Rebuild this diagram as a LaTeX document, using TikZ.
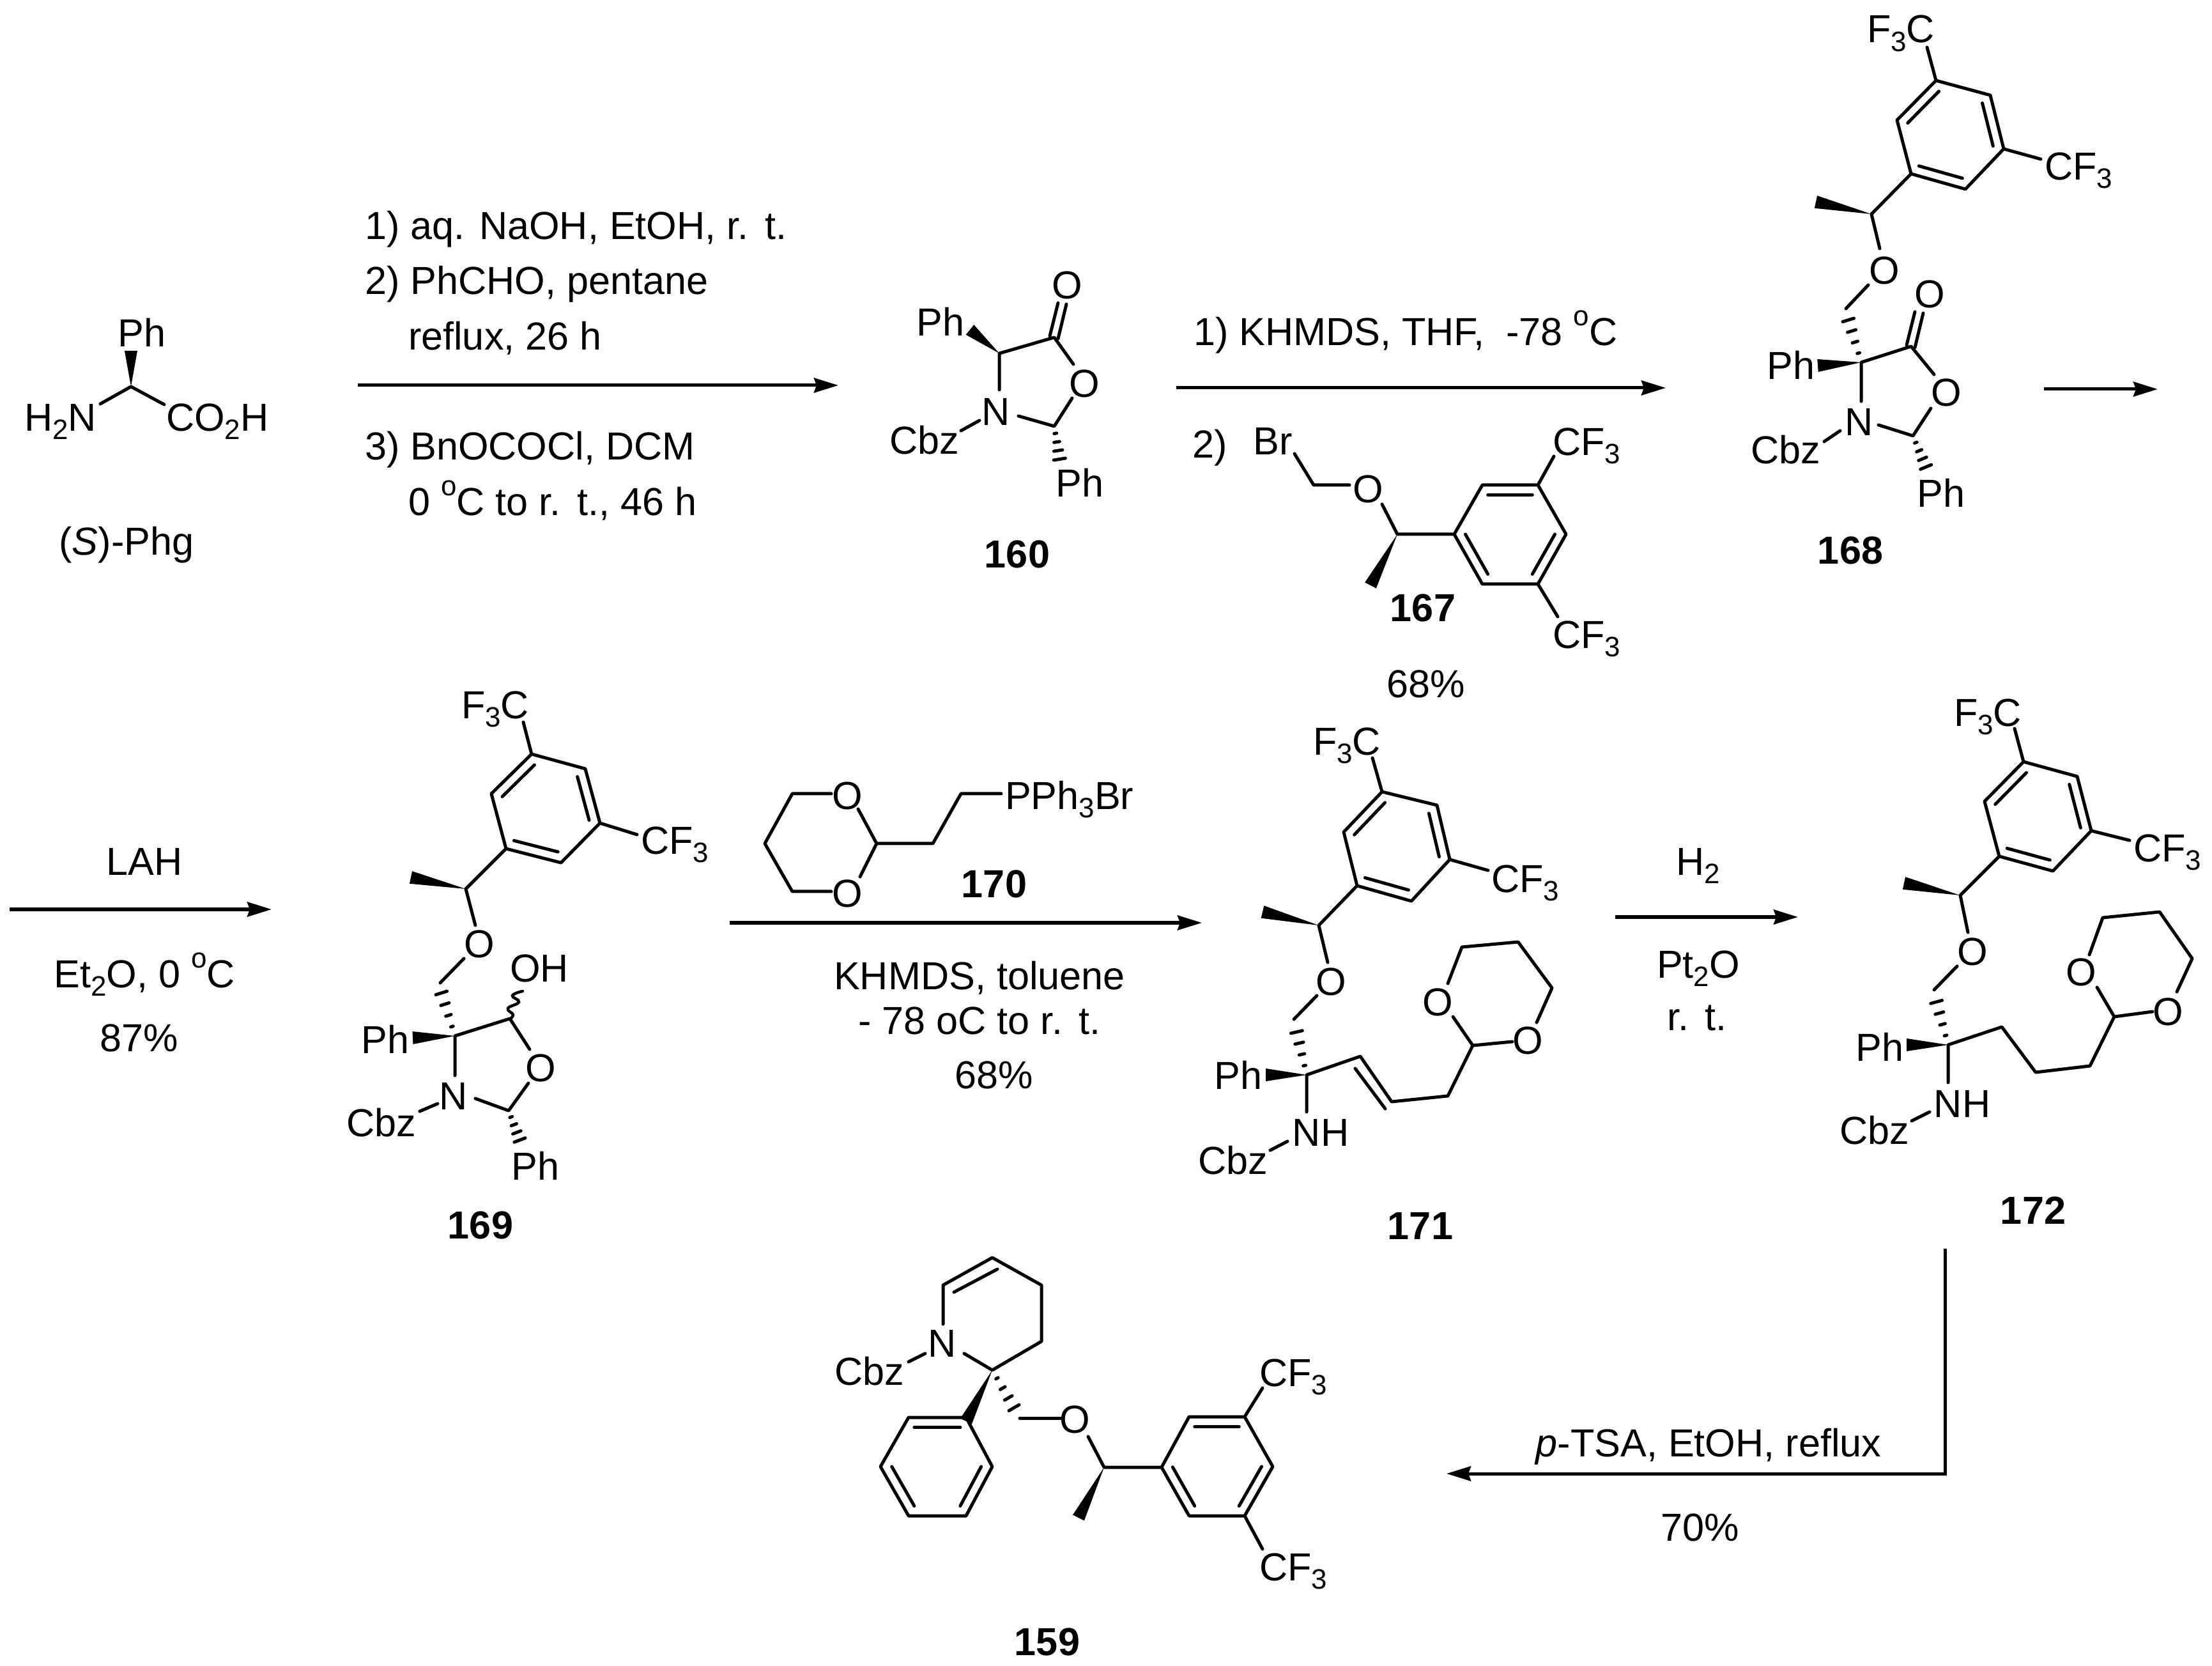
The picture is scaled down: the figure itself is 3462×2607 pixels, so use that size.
\documentclass[tikz,border=0pt]{standalone}
\usepackage{fontspec}
\setmainfont{Liberation Sans}
\usetikzlibrary{calc,arrows.meta}
\newcommand\sbs[1]{\raisebox{-0.22em}{\fontsize{12.5}{12.5}\selectfont #1}}
\newcommand\sps[1]{\raisebox{0.5em}{\fontsize{12.5}{12.5}\selectfont #1}}
\newcommand\rt{r.\hspace{0.42em}t.}
\tikzset{
  bond/.style={line width=0.05cm,line cap=round,line join=round},
  rxn/.style={line width=0.05cm,-{Stealth[length=0.38cm,width=0.23cm,inset=0.04cm]}},
  chem/.style={inner sep=0pt,outer sep=0pt,text height=0.42cm,text depth=0pt,font=\fontsize{17.4}{20}\selectfont},
  chemw/.style={chem,anchor=west},
  cmpd/.style={chem,font=\fontsize{17.4}{20}\selectfont\bfseries}
}
% wedge: narrow tip at #1, broad end at #2
\newcommand\wdg[2]{\fill #1 -- ($#2!0.1cm!90:#1$) -- ($#2!0.1cm!-90:#1$) -- cycle;}
% hashed wedge: narrow tip at #1, broad end at #2
\newcommand\hsh[2]{\foreach \tt in {0.2,0.44,0.68,0.92}{
  \pgfmathsetmacro\hw{0.1*\tt}
  \coordinate (hh) at ($#1!\tt!#2$);
  \draw[bond] ($(hh)!\hw cm!90:#2$) -- ($(hh)!\hw cm!-90:#2$);}}
% aromatic ring: double bonds on edges ab, cd, ef
\newcommand\hexring[7]{
  \coordinate (#1a) at #2; \coordinate (#1b) at #3; \coordinate (#1c) at #4;
  \coordinate (#1d) at #5; \coordinate (#1e) at #6; \coordinate (#1f) at #7;
  \coordinate (#1o) at (barycentric cs:#1a=1,#1b=1,#1c=1,#1d=1,#1e=1,#1f=1);
  \draw[bond] (#1a)--(#1b)--(#1c)--(#1d)--(#1e)--(#1f)--cycle;
  \draw[bond] ($(#1a)!0.2!(#1o)$)--($(#1b)!0.2!(#1o)$);
  \draw[bond] ($(#1c)!0.2!(#1o)$)--($(#1d)!0.2!(#1o)$);
  \draw[bond] ($(#1e)!0.2!(#1o)$)--($(#1f)!0.2!(#1o)$);
}
\begin{document}
\begin{tikzpicture}[x=0.01cm,y=-0.01cm]
\useasboundingbox (0,0) rectangle (3462,2607);
\fill[white] (0,0) rectangle (3462,2607);

%%% (S)-Phg
\draw[bond] (157,632)--(205,605)--(257,633);
\wdg{(205,605)}{(205,549)}
\node[chem] (phgPh) at (222,521) {Ph};
\node[chem,anchor=west] (phgN) at (38,653) {H\sbs{2}N};
\node[chem,anchor=west] (phgC) at (260,653) {CO\sbs{2}H};
\node[chem] (phgName) at (198,847) {(\textit{S})-Phg};

%%% arrow 1
\coordinate (a1s) at (560,603); \coordinate (a1e) at (1312,603);
\draw[rxn] (a1s)--(a1e);
\node[chemw] (t1a) at (571,354) {1) aq. NaOH, EtOH, \rt};
\node[chemw] (t1b) at (571,439) {2) PhCHO, pentane};
\node[chemw] (t1c) at (639,526) {reflux, 26 h};
\node[chemw] (t1d) at (571,698) {3) BnOCOCl, DCM};
\node[chemw] (t1e) at (639,785) {0 \sps{o}C to \rt, 46 h};

%%% 160
\draw[bond] (1564,610)--(1564,553)--(1650,528)--(1680,570);
\draw[bond] (1594,651)--(1650,667)--(1678,623);
\draw[bond] (1643,526)--(1656,474);
\draw[bond] (1656,530)--(1669,476);
\wdg{(1564,553)}{(1518,516)}
\hsh{(1650,667)}{(1659,723)}
\draw[bond] (1504,674)--(1533,658);
\node[chem] (c160O) at (1670,446) {O};
\node[chem] (c160Or) at (1697,600) {O};
\node[chem] (c160N) at (1559,644) {N};
\node[chem] (c160Ph) at (1472,504) {Ph};
\node[chem] (c160Ph2) at (1690,756) {Ph};
\node[chem] (c160Cbz) at (1447,689) {Cbz};
\node[cmpd] (c160) at (1592,867) {160};

%%% arrow 2
\coordinate (a2s) at (1841,607); \coordinate (a2e) at (2607,607);
\draw[rxn] (a2s)--(a2e);
\node[chemw] (t2a) at (1868,519) {1) KHMDS, THF,~ -78 \sps{o}C};
\node[chemw] (t2b) at (1866,695) {2)};
\node[chem] (c167Br) at (1992,690) {Br};
\draw[bond] (2026,710)--(2056,759)--(2112,759);
\node[chem] (c167O) at (2141,765) {O};
\draw[bond] (2163,789)--(2187,836)--(2276,836);
\wdg{(2187,836)}{(2145,916)}
\hexring{r167}{(2320,759)}{(2407,759)}{(2451,836)}{(2407,914)}{(2320,914)}{(2276,836)}
\draw[bond] (2407,759)--(2432,714);
\draw[bond] (2407,914)--(2438,965);
\node[chemw] (c167F1) at (2430,691) {CF\sbs{3}};
\node[chemw] (c167F2) at (2430,993) {CF\sbs{3}};
\node[cmpd] (c167) at (2227,951) {167};
\node[chem] (t2y) at (2232,1070) {68\%};

%%% 168
\hexring{r168}{(3115,149)}{(3136,233)}{(3076,296)}{(2991,272)}{(2969,188)}{(3030,126)}
\draw[bond] (3016,74)--(3030,126);
\draw[bond] (3136,233)--(3194,249);
\node[chem] (c168F1) at (2975,46) {F\sbs{3}C};
\node[chemw] (c168F2) at (3200,260) {CF\sbs{3}};
\draw[bond] (2991,272)--(2929,335)--(2942,389);
\wdg{(2929,335)}{(2842,316)}
\node[chem] (c168O) at (2949,423) {O};
\draw[bond] (2924,446)--(2889,483);
\hsh{(2913,567)}{(2891,495)}
\wdg{(2913,567)}{(2845,572)}
\node[chem] (c168Ph) at (2803,572) {Ph};
\draw[bond] (2913,628)--(2913,567)--(2991,542)--(3027,586);
\draw[bond] (2984,540)--(2997,488);
\draw[bond] (2997,544)--(3010,490);
\node[chem] (c168O2) at (3020,460) {O};
\node[chem] (c168Or) at (3046,614) {O};
\node[chem] (c168N) at (2910,660) {N};
\draw[bond] (2940,665)--(2994,682)--(3022,639);
\hsh{(2994,682)}{(3016,735)}
\draw[bond] (2855,691)--(2880,674);
\node[chem] (c168Cbz) at (2795,704) {Cbz};
\node[chem] (c168Ph2) at (3038,772) {Ph};
\node[cmpd] (c168) at (2896,861) {168};

%%% arrow 3
\coordinate (a3s) at (3199,609); \coordinate (a3e) at (3377,609);
\draw[rxn] (a3s)--(a3e);

%%% arrow 4
\coordinate (a4s) at (15,1423); \coordinate (a4e) at (425,1423);
\draw[rxn] (a4s)--(a4e);
\node[chem] (t4a) at (226,1348) {LAH};
\node[chem] (t4b) at (226,1524) {Et\sbs{2}O, 0 \sps{o}C};
\node[chem] (t4c) at (218,1624) {87\%};

%%% 169
\hexring{r169}{(916,1203)}{(939,1288)}{(878,1350)}{(792,1328)}{(769,1242)}{(832,1180)}
\draw[bond] (819,1130)--(832,1180);
\draw[bond] (939,1288)--(997,1306);
\node[chem] (c169F1) at (775,1103) {F\sbs{3}C};
\node[chemw] (c169F2) at (1003,1315) {CF\sbs{3}};
\draw[bond] (792,1328)--(729,1391)--(744,1448);
\wdg{(729,1391)}{(643,1373)}
\node[chem] (c169O) at (750,1477) {O};
\draw[bond] (726,1500)--(689,1538);
\hsh{(712,1621)}{(689,1548)}
\wdg{(712,1621)}{(646,1624)}
\node[chem] (c169Ph) at (603,1627) {Ph};
\draw[bond] (712,1683)--(712,1621)--(798,1594)--(829,1642);
\draw[line width=0.045cm,line cap=round] plot[smooth,tension=0.8] coordinates {(797,1595) (803,1588) (795,1578) (812,1568) (802,1558) (818,1551)};
\node[chem] (c169OH) at (844,1515) {OH};
\node[chem] (c169Or) at (846,1671) {O};
\node[chem] (c169N) at (710,1715) {N};
\draw[bond] (744,1719)--(796,1738)--(827,1695);
\hsh{(796,1738)}{(815,1788)}
\draw[bond] (657,1739)--(685,1727);
\node[chem] (c169Cbz) at (597,1757) {Cbz};
\node[chem] (c169Ph2) at (838,1825) {Ph};
\node[cmpd] (c169) at (752,1917) {169};

%%% 170
\draw[bond] (1301,1242)--(1240,1242)--(1197,1320)--(1240,1395)--(1301,1395);
\draw[bond] (1343,1266)--(1372,1320)--(1346,1372);
\draw[bond] (1372,1320)--(1460,1320)--(1504,1242)--(1567,1242);
\node[chem] (c170O1) at (1326,1245) {O};
\node[chem] (c170O2) at (1326,1398) {O};
\node[chemw] (c170P) at (1573,1245) {PPh\sbs{3}Br};
\node[cmpd] (c170) at (1556,1383) {170};

%%% arrow 5
\coordinate (a5s) at (1142,1444); \coordinate (a5e) at (1881,1444);
\draw[rxn] (a5s)--(a5e);
\node[chem] (t5a) at (1533,1527) {KHMDS, toluene};
\node[chem] (t5b) at (1533,1597) {- 78 oC to \rt};
\node[chem] (t5c) at (1556,1682) {68\%};

%%% 171
\hexring{r171}{(2249,1260)}{(2269,1345)}{(2209,1410)}{(2124,1386)}{(2103,1302)}{(2163,1239)}
\draw[bond] (2148,1186)--(2163,1239);
\draw[bond] (2269,1345)--(2329,1362);
\node[chem] (c171F1) at (2108,1160) {F\sbs{3}C};
\node[chemw] (c171F2) at (2334,1375) {CF\sbs{3}};
\draw[bond] (2124,1386)--(2064,1448)--(2078,1506);
\wdg{(2064,1448)}{(1976,1427)}
\node[chem] (c171O) at (2083,1536) {O};
\draw[bond] (2061,1558)--(2025,1595);
\hsh{(2045,1682)}{(2028,1609)}
\wdg{(2045,1682)}{(1981,1682)}
\node[chem] (c171Ph) at (1938,1683) {Ph};
\draw[bond] (2045,1740)--(2045,1682)--(2129,1653)--(2178,1724)--(2266,1715)--(2305,1636)--(2274,1591);
\draw[bond] (2121,1672)--(2168,1735);
\draw[bond] (2305,1636)--(2367,1630);
\node[chem] (c171O1) at (2250,1568) {O};
\node[chem] (c171O2) at (2391,1628) {O};
\draw[bond] (2266,1539)--(2288,1482)--(2376,1474)--(2429,1546)--(2405,1600);
\node[chem] (c171NH) at (2067,1772) {NH};
\draw[bond] (1988,1800)--(2015,1786);
\node[chem] (c171Cbz) at (1930,1816) {Cbz};
\node[cmpd] (c171) at (2223,1918) {171};

%%% arrow 6
\coordinate (a6s) at (2528,1435); \coordinate (a6e) at (2814,1435);
\draw[rxn] (a6s)--(a6e);
\node[chem] (t6a) at (2658,1348) {H\sbs{2}};
\node[chem] (t6b) at (2658,1509) {Pt\sbs{2}O};
\node[chem] (t6c) at (2656,1591) {\rt};

%%% 172
\hexring{r172}{(3251,1215)}{(3273,1300)}{(3213,1363)}{(3129,1340)}{(3106,1254)}{(3167,1192)}
\draw[bond] (3153,1140)--(3167,1192);
\draw[bond] (3273,1300)--(3333,1315);
\node[chem] (c172F1) at (3111,1115) {F\sbs{3}C};
\node[chemw] (c172F2) at (3339,1327) {CF\sbs{3}};
\draw[bond] (3129,1340)--(3068,1401)--(3080,1459);
\wdg{(3068,1401)}{(2980,1382)}
\node[chem] (c172O) at (3087,1489) {O};
\draw[bond] (3063,1512)--(3027,1549);
\hsh{(3049,1635)}{(3029,1562)}
\wdg{(3049,1635)}{(2984,1635)}
\node[chem] (c172Ph) at (2942,1639) {Ph};
\draw[bond] (3049,1694)--(3049,1635)--(3133,1607)--(3186,1678)--(3271,1668)--(3309,1591)--(3282,1545);
\draw[bond] (3309,1591)--(3369,1583);
\node[chem] (c172O1) at (3257,1521) {O};
\node[chem] (c172O2) at (3393,1583) {O};
\draw[bond] (3270,1494)--(3291,1436)--(3380,1427)--(3431,1500)--(3407,1552);
\node[chem] (c172NH) at (3071,1727) {NH};
\draw[bond] (2992,1754)--(3020,1740);
\node[chem] (c172Cbz) at (2934,1769) {Cbz};
\node[cmpd] (c172) at (3182,1894) {172};

%%% arrow 7
\coordinate (a7s) at (3044,1954); \coordinate (a7c) at (3044,2306); \coordinate (a7e) at (2264,2306);
\draw[rxn] (a7s)--(a7c)--(a7e);
\node[chem] (t7a) at (2674,2258) {\textit{p}-TSA, EtOH, reflux};
\node[chem] (t7b) at (2661,2390) {70\%};

%%% 159
\draw[bond] (1476,2072)--(1476,2011)--(1553,1968)--(1630,2011)--(1630,2099)--(1553,2144)--(1509,2118);
\draw[bond] (1493,2022)--(1561,1986);
\node[chem] (c159N) at (1475,2102) {N};
\draw[bond] (1422,2131)--(1448,2118);
\node[chem] (c159Cbz) at (1361,2146) {Cbz};
\hexring{r159a}{(1512,2218)}{(1422,2218)}{(1378,2295)}{(1422,2372)}{(1512,2372)}{(1553,2295)}
\wdg{(1553,2144)}{(1512,2224)}
\hsh{(1553,2144)}{(1590,2208)}
\draw[bond] (1596,2219)--(1661,2219);
\node[chem] (c159O) at (1682,2221) {O};
\draw[bond] (1703,2248)--(1728,2296)--(1818,2296);
\wdg{(1728,2296)}{(1688,2375)}
\hexring{r159b}{(1861,2217)}{(1948,2217)}{(1992,2295)}{(1948,2372)}{(1861,2372)}{(1818,2296)}
\draw[bond] (1948,2217)--(1976,2172);
\draw[bond] (1948,2372)--(1976,2424);
\node[chemw] (c159F1) at (1971,2148) {CF\sbs{3}};
\node[chemw] (c159F2) at (1971,2452) {CF\sbs{3}};
\node[cmpd] (c159) at (1639,2569) {159};
\end{tikzpicture}
\end{document}
